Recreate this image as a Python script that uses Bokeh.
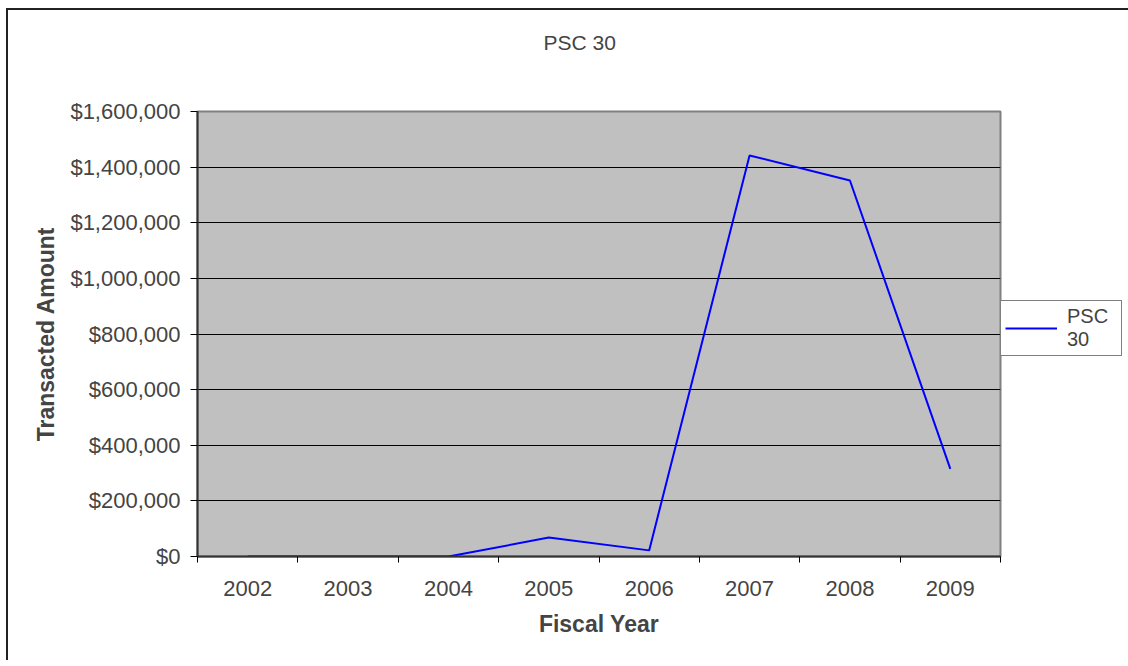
from bokeh.plotting import figure
from bokeh.models import (Range1d, FixedTicker, NumeralTickFormatter, Legend, LegendItem)
from bokeh.embed import file_html
from bokeh.resources import INLINE

years = ["2002", "2003", "2004", "2005", "2006", "2007", "2008", "2009"]
amounts = [0, 0, 0, 68000, 22000, 1442000, 1352000, 315000]
y_ticks = [0, 200000, 400000, 600000, 800000, 1000000, 1200000, 1400000, 1600000]
series_name = "PSC\n30"
title_text = "PSC 30"

FONT = "Liberation Sans"

x_pos = [i + 0.5 for i in range(len(years))]

p = figure(frame_width=803, frame_height=445, output_backend="svg", toolbar_location=None,
           x_range=Range1d(0, len(years)), y_range=Range1d(0, 1600000),
           min_border_left=189, min_border_right=128, min_border_top=101, min_border_bottom=104,
           title=title_text + "\n\n")
p.styles = {"border-left": "2px solid #222", "border-top": "2px solid #222",
            "margin-left": "6px", "margin-top": "8px"}

p.background_fill_color = "#C0C0C0"
p.border_fill_color = "white"
p.outline_line_color = "#808080"
p.outline_line_width = 2

p.title.text_font = FONT
p.title.text_font_size = "21px"
p.title.text_font_style = "normal"
p.title.align = "left"
p.title.offset = 346
p.title.vertical_align = "top"
p.title.standoff = 20

# grids
p.xgrid.visible = False
p.ygrid.grid_line_color = "black"
p.ygrid.grid_line_width = 1
p.ygrid.ticker = FixedTicker(ticks=y_ticks)

# y axis
p.yaxis.ticker = FixedTicker(ticks=y_ticks)
p.yaxis.formatter = NumeralTickFormatter(format="$0,0")
p.yaxis.major_label_text_font = FONT
p.yaxis.major_label_text_font_size = "22px"
p.yaxis.major_tick_out = 7
p.yaxis.major_tick_in = 0
p.yaxis.minor_tick_line_color = None
p.yaxis.major_label_standoff = 10
p.yaxis.axis_line_color = "#333333"
p.yaxis.axis_line_width = 2
p.yaxis.axis_label = "Transacted Amount"
p.yaxis.axis_label_text_font = FONT
p.yaxis.axis_label_text_font_size = "23px"
p.yaxis.axis_label_text_font_style = "bold"
p.yaxis.axis_label_standoff = 8

# x axis
p.xaxis.ticker = FixedTicker(ticks=x_pos, minor_ticks=list(range(len(years) + 1)))
p.xaxis.major_label_overrides = {x: y for x, y in zip(x_pos, years)}
p.xaxis.major_label_text_font = FONT
p.xaxis.major_label_text_font_size = "22px"
p.xaxis.major_tick_out = 0
p.xaxis.major_tick_in = 0
p.xaxis.minor_tick_out = 6
p.xaxis.minor_tick_in = 0
p.xaxis.minor_tick_line_color = "black"
p.xaxis.major_label_standoff = 18
p.xaxis.axis_line_color = "#333333"
p.xaxis.axis_line_width = 2
p.xaxis.axis_label = "Fiscal Year"
p.xaxis.axis_label_text_font = FONT
p.xaxis.axis_label_text_font_size = "23px"
p.xaxis.axis_label_text_font_style = "bold"
p.xaxis.axis_label_standoff = 12

r = p.line(x_pos, amounts, line_color="#0000FF", line_width=2)

legend = Legend(items=[LegendItem(label=series_name, renderers=[r])],
                location=(0, 200), orientation="vertical")
legend.label_text_font = FONT
legend.label_text_font_size = "20px"
legend.label_text_line_height = 0.7
legend.label_width = 50
legend.glyph_width = 52
legend.border_line_color = "black"
legend.border_line_width = 1
legend.background_fill_color = "white"
legend.background_fill_alpha = 1
legend.padding = 4
legend.margin = 0
legend.label_standoff = 10
p.add_layout(legend, "right")

open("out.html", "w").write(file_html(p, INLINE))
